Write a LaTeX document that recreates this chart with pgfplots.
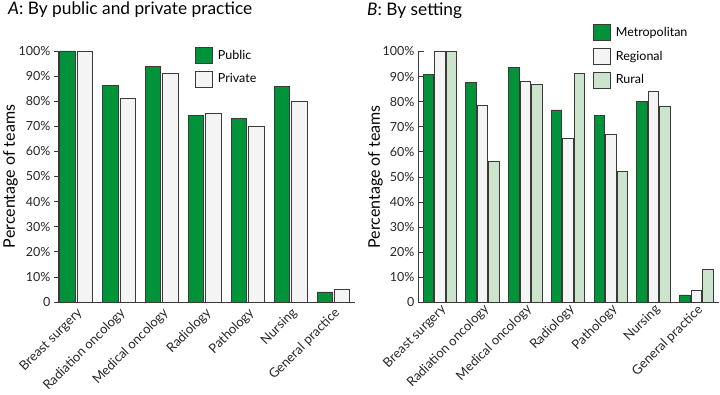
\documentclass[border=0pt]{standalone}
\usepackage{pgfplots}
\pgfplotsset{compat=1.18}
\usepackage{fontspec}
\setmainfont{Lato}
\definecolor{dgreen}{HTML}{00933A}
\definecolor{lgray}{HTML}{F3F4F3}
\definecolor{lgreen}{HTML}{CDE4CC}
\definecolor{edge}{HTML}{3A3A3A}

\pgfplotsset{
  mybars/.style={
    ybar, ymin=0, ymax=100,
    scale only axis, height=251pt,
    axis x line*=bottom, axis y line*=left,
    axis line style={-, color=edge, line width=0.8pt},
    ytick={0,10,...,100},
    yticklabels={0,10\%,20\%,30\%,40\%,50\%,60\%,70\%,80\%,90\%,100\%},
    xtick={0,...,6},
    xticklabels={Breast surgery,Radiation oncology,Medical oncology,Radiology,Pathology,Nursing,General practice},
    x tick style={draw=none},
    y tick style={color=edge, line width=0.8pt},
    tick label style={font=\fontsize{12.5}{13}\selectfont, color=black!85},
    xticklabel style={rotate=45, anchor=north east, inner sep=0.5pt, font=\fontsize{13}{14}\selectfont},
    ylabel={Percentage of teams},
    ylabel style={font=\fontsize{16}{17}\selectfont, inner sep=0pt, anchor=north},
    every axis plot/.append style={draw=edge, line width=0.8pt},
    every axis plot post/.append style={legend image code/.code={\draw[##1, line width=0.8pt] (0pt,-8pt) rectangle (16.5pt,8pt);}},
    legend style={draw=none, fill=none, inner sep=0pt, font=\fontsize{12.5}{13}\selectfont,
      row sep=7pt, column sep=5pt, nodes={inner sep=0.5pt}, cells={anchor=west}},
    legend cell align=left,
    clip=false,
  }
}

\begin{document}
\begin{tikzpicture}
\useasboundingbox (0,0) rectangle (720pt,394pt);

\node[anchor=base west, inner sep=0pt, font=\fontsize{17.3}{18}\selectfont] at (8pt,379pt) {\textit{A}: By public and private practice};
\node[anchor=base west, inner sep=0pt, font=\fontsize{17.3}{18}\selectfont] at (367pt,378pt) {\textit{B}: By setting};

\begin{axis}[mybars,
  at={(58pt,92pt)}, anchor=south west,
  width=297pt, xmin=-0.42, xmax=6.5,
  bar width=15.3pt, ybar=2pt,
  tick align=outside, major tick length=4pt,
  ylabel style={at={(axis description cs:-0.185,0.5)}},
  legend style={at={(axis description cs:0.461,1.017)}, anchor=north west},
]
\addplot[fill=dgreen] coordinates {(0,100) (1,86.3) (2,93.7) (3,74.2) (4,73.2) (5,85.8) (6,4.0)};
\addplot[fill=lgray] coordinates {(0,100) (1,81.0) (2,91.2) (3,75.2) (4,70.0) (5,80.0) (6,5.2)};
\legend{Public,Private}
\end{axis}

\begin{axis}[mybars,
  at={(418pt,91.5pt)}, anchor=south west,
  width=301pt, xmin=-0.51, xmax=6.53,
  bar width=10.5pt, ybar=1pt,
  tick align=inside, major tick length=6pt,
  ylabel style={at={(axis description cs:-0.166,0.5)}},
  legend style={at={(axis description cs:0.581,1.11)}, anchor=north west},
]
\addplot[fill=dgreen] coordinates {(0,91.0) (1,87.7) (2,93.7) (3,76.7) (4,74.7) (5,80.0) (6,3.0)};
\addplot[fill=lgray] coordinates {(0,100) (1,78.7) (2,88.2) (3,65.4) (4,66.8) (5,84.3) (6,4.7)};
\addplot[fill=lgreen] coordinates {(0,100) (1,56.3) (2,86.9) (3,91.3) (4,52.1) (5,78.2) (6,13.0)};
\legend{Metropolitan,Regional,Rural}
\end{axis}
\end{tikzpicture}
\end{document}
